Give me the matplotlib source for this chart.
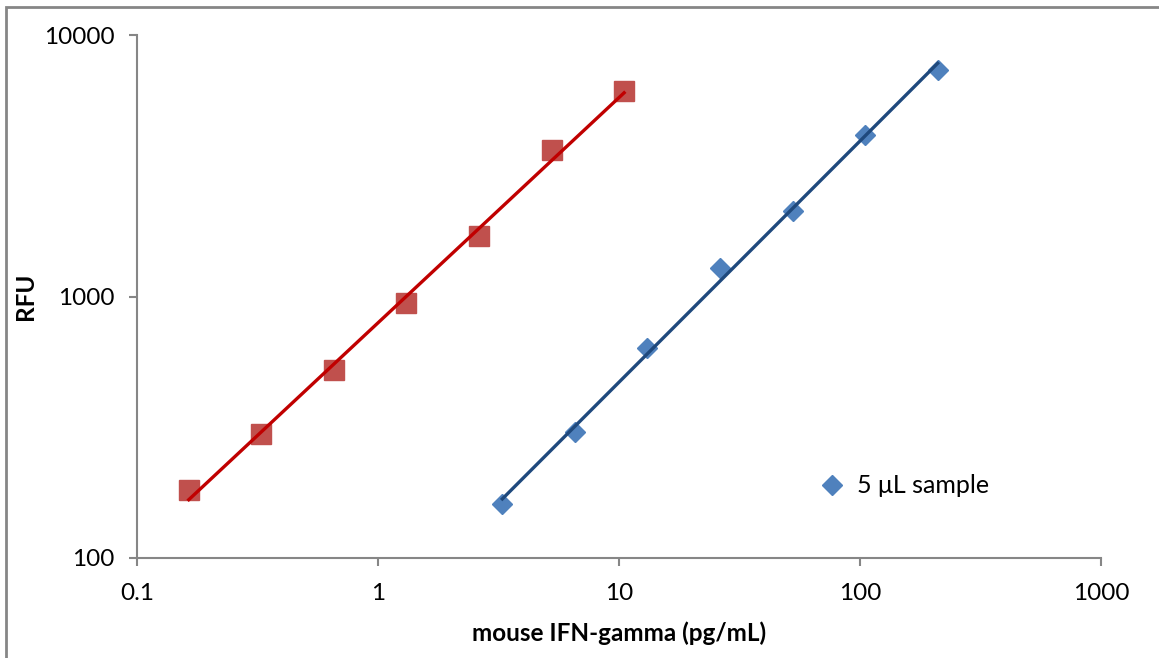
import matplotlib
matplotlib.use("Agg")
import matplotlib.pyplot as plt
import numpy as np
from matplotlib.patches import Rectangle

plt.rcParams['font.family'] = ['Lato', 'DejaVu Sans']

# standard curve, 2-fold dilutions
conc_red = [0.164, 0.328, 0.656, 1.31, 2.62, 5.25, 10.5]
rfu_red = [182, 298, 524, 944, 1702, 3630, 6110]

conc_blue = [3.28, 6.56, 13.1, 26.25, 52.5, 105, 210]
rfu_blue = [161, 303, 635, 1285, 2123, 4150, 7345]

x_ticks = [0.1, 1, 10, 100, 1000]
x_labels = ['0.1', '1', '10', '100', '1000']
y_ticks = [100, 1000, 10000]
y_labels = ['100', '1000', '10000']

fig = plt.figure(figsize=(11.59, 6.58), dpi=100)
ax = fig.add_axes([137/1159, 1-558/658, (1101-137)/1159, (558-35)/658])

# power trendlines (linear fit in log-log)
def trend(xs, ys):
    lx = np.log10(xs)
    ly = np.log10(ys)
    p = np.polyfit(lx, ly, 1)
    xx = np.array([lx[0], lx[-1]])
    return 10**xx, 10**np.polyval(p, xx)

ax.plot(conc_red, rfu_red, linestyle='none', marker='s', markersize=14,
        color='#C0504D', zorder=2)
tx, ty = trend(conc_red, rfu_red)
ax.plot(tx, ty, color='#C00000', linewidth=2.4, zorder=3)

ax.plot(conc_blue, rfu_blue, linestyle='none', marker='D', markersize=10,
        color='#4F81BD', zorder=2, label='5 μL sample')
tx, ty = trend(conc_blue, rfu_blue)
ax.plot(tx, ty, color='#1F497D', linewidth=2.4, zorder=3)

ax.set_xscale('log')
ax.set_yscale('log')
ax.set_xlim(0.1, 1000)
ax.set_ylim(100, 10000)
ax.set_xticks(x_ticks)
ax.set_xticklabels(x_labels)
ax.set_yticks(y_ticks)
ax.set_yticklabels(y_labels)
ax.minorticks_off()

for s in ['top', 'right']:
    ax.spines[s].set_visible(False)
for s in ['left', 'bottom']:
    ax.spines[s].set_color('#868686')
    ax.spines[s].set_linewidth(1.5)
ax.tick_params(axis='both', direction='out', length=6, width=1.5,
               color='#868686', labelsize=17.5)
ax.tick_params(axis='x', pad=12)
ax.tick_params(axis='y', pad=10)

ax.set_xlabel('mouse IFN-gamma (pg/mL)', fontsize=17.5, fontweight='bold')
ax.set_ylabel('RFU', fontsize=17.5, fontweight='bold')
ax.xaxis.set_label_coords(0.5, -0.122)
ax.yaxis.set_label_coords(-0.104, 0.5)

ax.legend(loc='center left', bbox_to_anchor=(0.685, 0.138), frameon=False,
          fontsize=18, handletextpad=0.5, handlelength=1.0)

# outer chart border
fig.patches.append(Rectangle((6/1159, -0.1), 1.2, 1-7/658+0.1, transform=fig.transFigure,
                             fill=False, edgecolor='#868686', linewidth=2))

fig.savefig('out.png', dpi=100)
